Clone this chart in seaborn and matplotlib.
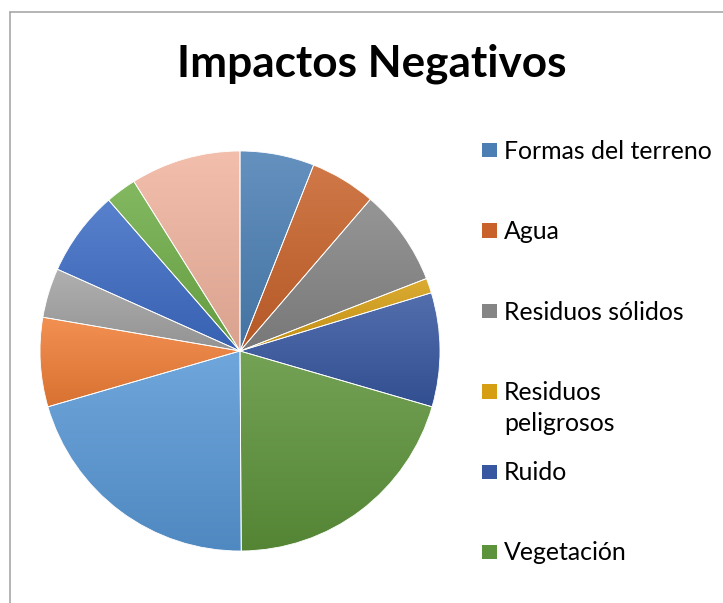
import numpy as np
import matplotlib
matplotlib.use("Agg")
import matplotlib.pyplot as plt
import seaborn as sns
from matplotlib.colors import to_rgb, LinearSegmentedColormap
from matplotlib.patches import Rectangle
from matplotlib.lines import Line2D

# Share of each negative impact (percent), clockwise from 12 o'clock
impact_values = [6.0, 5.3, 7.8, 1.2, 9.2, 20.4, 20.6, 7.2, 4.0, 6.9, 2.5, 8.9]

# Legend entries shown beside the chart
legend_labels = ["Formas del terreno", "Agua", "Residuos sólidos",
                 "Residuos\npeligrosos", "Ruido", "Vegetación"]

slice_colors = ["#4B7FB4", "#C8622A", "#858585", "#D69E12", "#3757A0", "#5D933A",
                "#5898D6", "#F07E36", "#A3A3A3", "#3D6CC5", "#6FAD47", "#F1B49F"]

title_text = "Impactos Negativos"

sns.set_theme(style="white")
plt.rcParams["font.family"] = ["Lato", "DejaVu Sans"]

W, H = 723, 603
fig = plt.figure(figsize=(W / 100, H / 100), dpi=100)
fig.patch.set_facecolor("white")


def fx(x):
    return x / W


def fy(y):
    return 1 - y / H


palette = sns.color_palette(slice_colors)

# Pie axes: 400 px square, centred at (240, 351)
ax = fig.add_axes([fx(40), fy(551), 400 / W, 400 / H])
wedges, _ = ax.pie(impact_values, colors=palette, startangle=90, counterclock=False,
                   radius=1, center=(0, 0),
                   wedgeprops=dict(edgecolor="white", linewidth=0.6))


def mix(c, target, t):
    c = np.array(to_rgb(c))
    return tuple(c + (np.array(target) - c) * t)


# Soft top-to-bottom gradient inside each slice
grad = np.linspace(0, 1, 256).reshape(-1, 1)
for w, col in zip(wedges, palette):
    top = mix(col, (1, 1, 1), 0.14)
    bottom = mix(col, (0, 0, 0), 0.10)
    cmap = LinearSegmentedColormap.from_list("g", [top, bottom])
    ext = w.get_path().get_extents()
    im = ax.imshow(grad, cmap=cmap, extent=(ext.x0, ext.x1, ext.y0, ext.y1),
                   origin="upper", aspect="auto", zorder=1, interpolation="bilinear")
    im.set_clip_path(w)
    w.set_facecolor("none")
    w.set_zorder(3)

ax.set_xlim(-1.0, 1.0)
ax.set_ylim(-1.0, 1.0)
ax.set_aspect("equal")
ax.axis("off")

# Title
fig.text(fx(372), fy(76), title_text, ha="center", va="baseline",
         fontsize=31.8, fontweight="bold", color="black")

# Legend (first six categories)
entry_y = [150, 230.5, 311, 391.5, 472, 552]
for label, col, yc in zip(legend_labels, palette, entry_y):
    fig.patches.append(Rectangle((fx(482.5), fy(yc + 7.3)), 14.5 / W, 14.5 / H,
                                 transform=fig.transFigure, facecolor=col,
                                 edgecolor="none"))
    for k, line in enumerate(label.split("\n")):
        fig.text(fx(504), fy(yc + 8.5 + 31 * k), line, ha="left", va="baseline",
                 fontsize=17.9, color="black")

# Chart-area frame (runs off the right and bottom edges)
frame_col = "#A0A0A0"
fig.add_artist(Line2D([fx(9.5), fx(9.5)], [fy(603), fy(11.5)], transform=fig.transFigure,
                      color=frame_col, linewidth=1.1))
fig.add_artist(Line2D([fx(9.5), fx(723)], [fy(11.5), fy(11.5)], transform=fig.transFigure,
                      color=frame_col, linewidth=1.1))

fig.savefig("out.png", dpi=100)
